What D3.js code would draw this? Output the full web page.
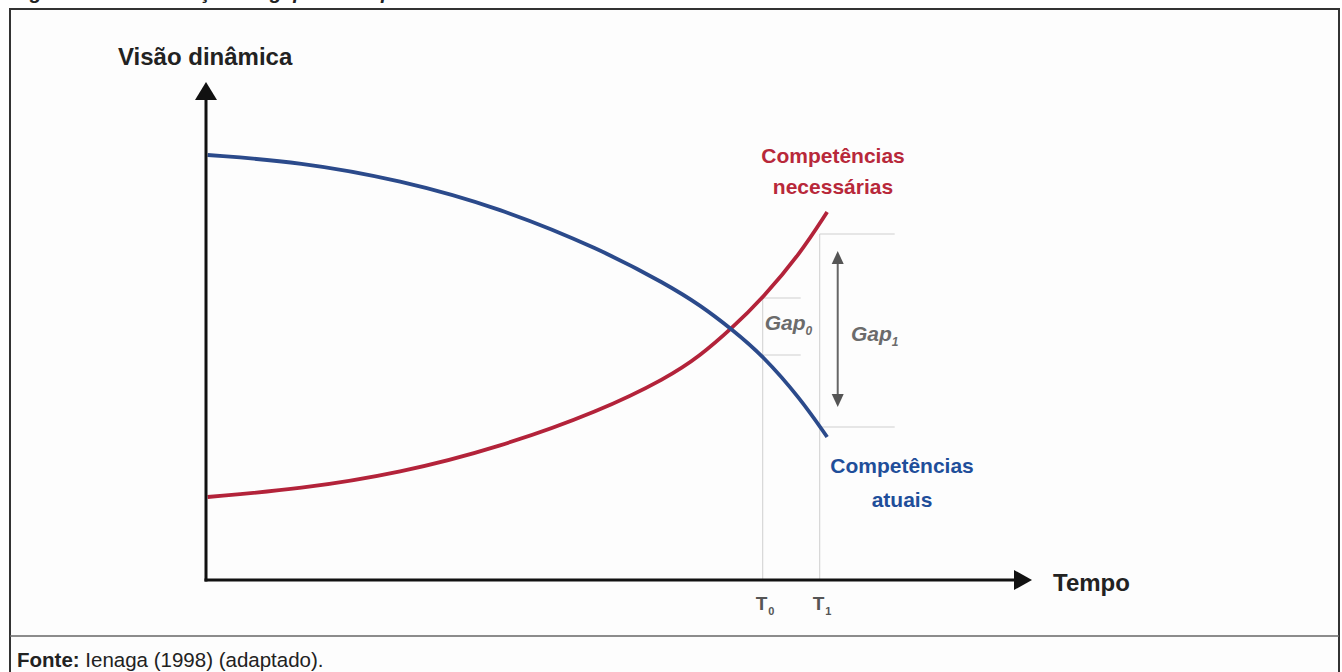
<!DOCTYPE html>
<html>
<head>
<meta charset="utf-8">
<script src="https://cdn.jsdelivr.net/npm/d3@7"></script>
<style>
  html, body { margin: 0; padding: 0; background: #fff; }
  svg { display: block; font-family: "Liberation Sans", Arial, sans-serif; }
</style>
</head>
<body>
<div id="chart"></div>
<script>
// tempo (abstract units, 0-100) and "visão dinâmica" levels (0-100)
const tempo = [0.2, 11.4, 23.5, 35.6, 47.7, 55.8, 59.8, 63.7, 67.4, 71.9, 75.2];
const atuais = [85, 83.6, 80, 74.4, 66.2, 59.1, 55, 50.1, 44.9, 36.4, 28.6];
const necessarias = [16.6, 18.2, 21.4, 26.6, 33.8, 40.4, 44.8, 50.4, 56.4, 65.2, 73.6];
const marcos = [{label: "T", sub: "0", x: 67.4}, {label: "T", sub: "1", x: 74.3}];
const gap0 = [56.4, 45];
const gap1 = [69.2, 30.6];

const W = 1342, H = 672;
const BLUE = "#2b4a8b", RED = "#b3233a";

const x = d3.scaleLinear().domain([0, 100]).range([206, 1032]);
const y = d3.scaleLinear().domain([0, 100]).range([580, 80]);

const svg = d3.select("#chart").append("svg").attr("width", W).attr("height", H);

// cut-off figure title
svg.append("text").attr("x", 12).attr("y", -1)
    .style("font-size", "20px").style("font-weight", "bold").style("font-style", "italic")
    .attr("fill", "#222")
    .text("Figura 1 – Identificação do gap de competências");

// frame
svg.append("rect").attr("x", 10).attr("y", 9).attr("width", 1329).attr("height", 700)
    .attr("fill", "#fdfdfd").attr("stroke", "#333").attr("stroke-width", 2);
svg.append("line").attr("x1", 10).attr("x2", 1339).attr("y1", 636).attr("y2", 636)
    .attr("stroke", "#666").attr("stroke-width", 1.5);

const fonte = svg.append("text").attr("x", 17).attr("y", 667)
    .style("font-size", "20.5px").attr("fill", "#222");
fonte.append("tspan").style("font-weight", "bold").text("Fonte:");
fonte.append("tspan").text(" Ienaga (1998) (adaptado).");

// guide lines
const g = svg.append("g");
const gray = "#cfcfcf";
g.append("line").attr("x1", x(marcos[0].x)).attr("x2", x(marcos[0].x))
    .attr("y1", y(gap0[0])).attr("y2", y(0)).attr("stroke", gray);
g.append("line").attr("x1", x(marcos[1].x)).attr("x2", x(marcos[1].x))
    .attr("y1", y(gap1[0])).attr("y2", y(0)).attr("stroke", gray);
gap0.forEach(v => g.append("line").attr("x1", x(marcos[0].x)).attr("x2", x(marcos[0].x) + 38)
    .attr("y1", y(v)).attr("y2", y(v)).attr("stroke", gray));
gap1.forEach(v => g.append("line").attr("x1", x(marcos[1].x)).attr("x2", x(marcos[1].x) + 75)
    .attr("y1", y(v)).attr("y2", y(v)).attr("stroke", gray));

// double arrow for gap1
const ax = x(marcos[1].x) + 18;
const ay1 = y(gap1[0]) + 17, ay2 = y(gap1[1]) - 20;
g.append("line").attr("x1", ax).attr("x2", ax).attr("y1", ay1 + 8).attr("y2", ay2 - 8)
    .attr("stroke", "#666").attr("stroke-width", 2);
g.append("path").attr("d", `M${ax},${ay1} l-6,13 l12,0 z`).attr("fill", "#555");
g.append("path").attr("d", `M${ax},${ay2} l-6,-13 l12,0 z`).attr("fill", "#555");

// curves (basis smooths the hand-read points)
const line = d3.line().curve(d3.curveBasis).x(d => x(d[0])).y(d => y(d[1]));
g.append("path").datum(d3.zip(tempo, necessarias)).attr("d", line)
    .attr("fill", "none").attr("stroke", RED).attr("stroke-width", 3.8);
g.append("path").datum(d3.zip(tempo, atuais)).attr("d", line)
    .attr("fill", "none").attr("stroke", BLUE).attr("stroke-width", 3.8);

// axes
g.append("line").attr("x1", x(0)).attr("x2", x(0)).attr("y1", y(0) + 1.5).attr("y2", 100)
    .attr("stroke", "#111").attr("stroke-width", 3);
g.append("path").attr("d", `M${x(0)},82 l-11,18 l22,0 z`).attr("fill", "#111");
g.append("line").attr("x1", x(0) - 1.5).attr("x2", 1015).attr("y1", y(0)).attr("y2", y(0))
    .attr("stroke", "#111").attr("stroke-width", 3);
g.append("path").attr("d", `M1032,${y(0)} l-18,-10 l0,20 z`).attr("fill", "#111");

// axis titles
svg.append("text").attr("x", 118).attr("y", 65).style("font-size", "24px")
    .style("font-weight", "bold").attr("fill", "#222").text("Visão dinâmica");
svg.append("text").attr("x", 1053).attr("y", 591).style("font-size", "24px")
    .style("font-weight", "bold").attr("fill", "#222").text("Tempo");

// T0 / T1
marcos.forEach(m => {
    const t = svg.append("text").attr("x", x(m.x) - 7).attr("y", 610)
        .style("font-size", "19px").style("font-weight", "bold").attr("fill", "#555");
    t.append("tspan").text(m.label);
    t.append("tspan").attr("dx", 1).attr("dy", 5).style("font-size", "11px").text(m.sub);
});

// gap labels
function gapLabel(px, py, sub) {
    const t = svg.append("text").attr("x", px).attr("y", py)
        .style("font-size", "21px").style("font-weight", "bold").style("font-style", "italic")
        .attr("fill", "#6b6b6b");
    t.append("tspan").text("Gap");
    t.append("tspan").attr("dy", 5).style("font-size", "12px").text(sub);
}
gapLabel(x(marcos[0].x) + 2, 330, "0");
gapLabel(851, 341, "1");

// series labels
function seriesLabel(cx, lines, color) {
    lines.forEach((s, i) => svg.append("text").attr("x", cx).attr("y", s[1])
        .attr("text-anchor", "middle").style("font-size", "21px").style("font-weight", "bold")
        .attr("fill", color).text(s[0]));
}
seriesLabel(833, [["Competências", 163], ["necessárias", 194]], "#b8283a");
seriesLabel(902, [["Competências", 473], ["atuais", 507]], "#1f4e9a");
</script>
</body>
</html>
